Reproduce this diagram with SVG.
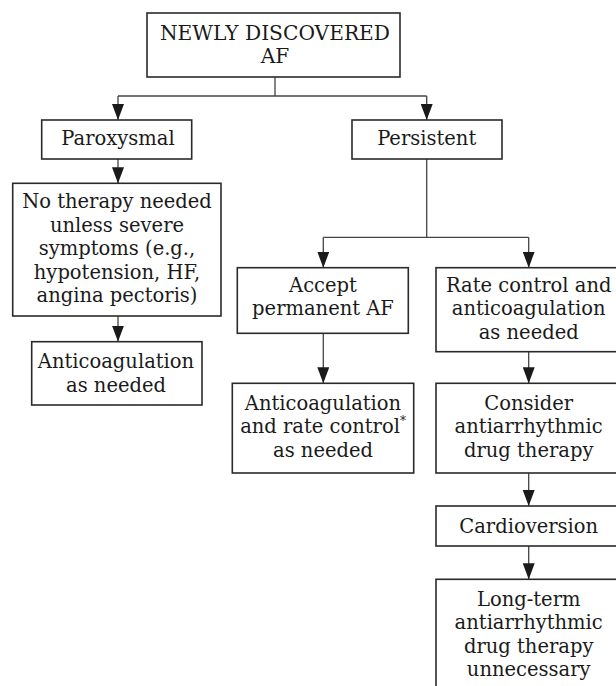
<svg xmlns="http://www.w3.org/2000/svg" width="616" height="686" viewBox="0 0 616 686">
<style>
  .box { fill: #ffffff; stroke: #2a2a2a; stroke-width: 1.6; }
  .t { font-family: "DejaVu Serif", "Liberation Serif", serif; font-size: 19.5px; fill: #1a1a1a; text-anchor: middle; }
  .big { font-size: 20.2px; }
  .conn { fill: none; stroke: #444444; stroke-width: 1.3; }
  .sup { font-size: 12px; }
</style>
<defs>
  <marker id="arrow" markerUnits="userSpaceOnUse" markerWidth="16" markerHeight="12" refX="16" refY="6" orient="auto">
    <path d="M0,0 L16,6 L0,12 Z" fill="#1a1a1a"/>
  </marker>
</defs>
<rect width="616" height="686" fill="#ffffff"/>

<g id="connectors">
  <path class="conn" d="M275,77 V96"/>
  <path class="conn" d="M118,96 H426.7"/>
  <path class="conn" d="M118,96 V120" marker-end="url(#arrow)"/>
  <path class="conn" d="M426.7,96 V120" marker-end="url(#arrow)"/>
  <path class="conn" d="M118,159 V183.3" marker-end="url(#arrow)"/>
  <path class="conn" d="M118,316 V341.7" marker-end="url(#arrow)"/>
  <path class="conn" d="M426.7,159 V237.3"/>
  <path class="conn" d="M323.3,237.3 H528.7"/>
  <path class="conn" d="M323.3,237.3 V267.7" marker-end="url(#arrow)"/>
  <path class="conn" d="M528.7,237.3 V267.7" marker-end="url(#arrow)"/>
  <path class="conn" d="M323.3,333.3 V383.3" marker-end="url(#arrow)"/>
  <path class="conn" d="M528.7,351.7 V383.3" marker-end="url(#arrow)"/>
  <path class="conn" d="M528.7,473 V506" marker-end="url(#arrow)"/>
  <path class="conn" d="M528.7,546 V579.3" marker-end="url(#arrow)"/>
</g>

<g id="newly-discovered">
  <rect class="box" x="147" y="13" width="253" height="64"/>
  <text class="t big" x="275" y="40">NEWLY DISCOVERED</text>
  <text class="t big" x="275" y="63">AF</text>
</g>

<g id="paroxysmal">
  <rect class="box" x="41.7" y="120" width="150" height="39"/>
  <text class="t" x="118" y="145">Paroxysmal</text>
</g>

<g id="persistent">
  <rect class="box" x="352" y="120" width="150" height="39"/>
  <text class="t" x="426.7" y="145">Persistent</text>
</g>

<g id="no-therapy">
  <rect class="box" x="12.7" y="183.3" width="208.3" height="132.7"/>
  <text class="t" x="117" y="208.3">No therapy needed</text>
  <text class="t" x="117" y="231.8">unless severe</text>
  <text class="t" x="117" y="255.3">symptoms (e.g.,</text>
  <text class="t" x="117" y="278.8">hypotension, HF,</text>
  <text class="t" x="117" y="302.3">angina pectoris)</text>
</g>

<g id="anticoag-left">
  <rect class="box" x="31.7" y="341.7" width="170.3" height="63.3"/>
  <text class="t" x="116" y="368.3">Anticoagulation</text>
  <text class="t" x="116" y="392">as needed</text>
</g>

<g id="accept-permanent">
  <rect class="box" x="237.3" y="267.7" width="171" height="65.6"/>
  <text class="t" x="323" y="291.7">Accept</text>
  <text class="t" x="323" y="315">permanent AF</text>
</g>

<g id="anticoag-rate">
  <rect class="box" x="232.3" y="383.3" width="181.4" height="89.7"/>
  <text class="t" x="323" y="410">Anticoagulation</text>
  <text class="t" x="323" y="433.3">and rate control<tspan class="sup" dy="-8">*</tspan></text>
  <text class="t" x="323" y="456.7">as needed</text>
</g>

<g id="rate-control">
  <rect class="box" x="436" y="267.7" width="186" height="84"/>
  <text class="t" x="528.7" y="291.7">Rate control and</text>
  <text class="t" x="528.7" y="315.3">anticoagulation</text>
  <text class="t" x="528.7" y="338.7">as needed</text>
</g>

<g id="consider-drug">
  <rect class="box" x="436" y="383.3" width="186" height="89.7"/>
  <text class="t" x="528.7" y="410">Consider</text>
  <text class="t" x="528.7" y="433.3">antiarrhythmic</text>
  <text class="t" x="528.7" y="456.7">drug therapy</text>
</g>

<g id="cardioversion">
  <rect class="box" x="436" y="506" width="186" height="40"/>
  <text class="t" x="528.7" y="532.7">Cardioversion</text>
</g>

<g id="long-term">
  <rect class="box" x="436" y="579.3" width="186" height="130"/>
  <text class="t" x="528.7" y="605.7">Long-term</text>
  <text class="t" x="528.7" y="629.2">antiarrhythmic</text>
  <text class="t" x="528.7" y="652.7">drug therapy</text>
  <text class="t" x="528.7" y="676">unnecessary</text>
</g>
</svg>
